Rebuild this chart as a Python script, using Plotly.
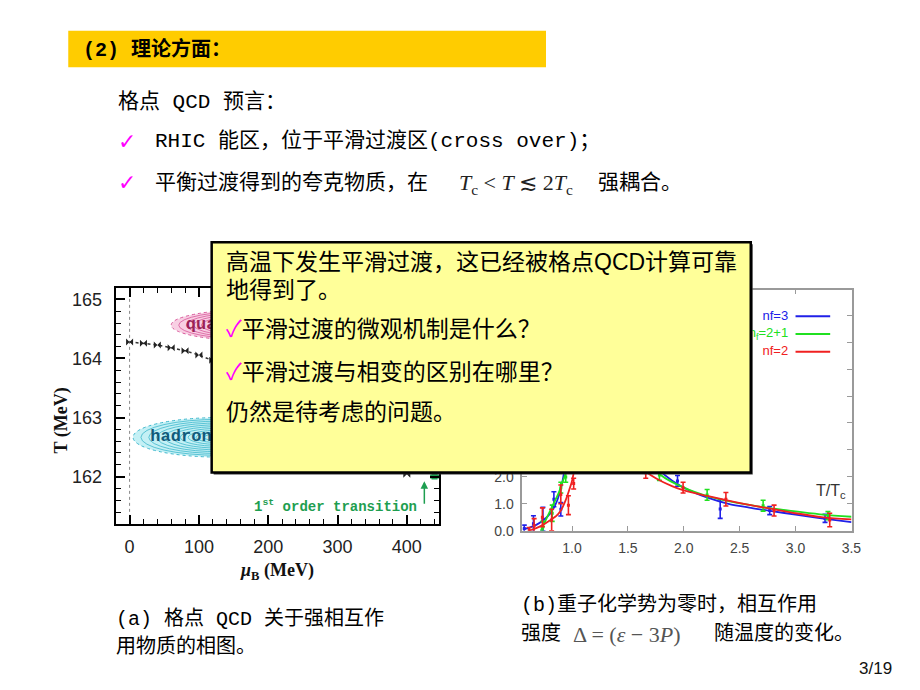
import plotly.graph_objects as go

W, H = 920, 690
def px(x): return x / W
def py(y): return 1 - y / H

# ---------------- Left panel data: lattice QCD phase diagram ----------------
mu_cross = [0, 20, 40, 60, 80, 100, 120, 140, 160, 180, 200, 220, 240, 260, 280, 300, 320, 340, 360, 380, 400]
T_cross = [164.28, 164.26, 164.23, 164.18, 164.13, 164.06, 163.97, 163.87, 163.75, 163.62, 163.48,
           163.34, 163.2, 163.05, 162.9, 162.75, 162.6, 162.45, 162.3, 162.16, 162.04]
mu_first = [440]
T_first = [162.0]
region_names = ["quark-gluon plasma", "hadron gas"]
region_mu = [81, 30]
region_T = [164.57, 162.67]
# ellipse (centre mu, half-width, centre T, half-height)
ell_qgp = (180, 120, 164.565, 0.265)
ell_had = (130, 125, 162.665, 0.335)

# ---------------- Right panel data: interaction measure vs T/Tc ----------------
c_nf3_x = [0.56, 0.62, 0.68, 0.74, 0.80, 0.85, 0.89, 0.92, 0.95, 1.0, 1.05, 1.1, 1.2, 1.3, 1.45, 1.6,
           1.75, 1.9, 2.05, 2.2, 2.4, 2.6, 2.8, 3.0, 3.2, 3.5]
c_nf3_y = [0.05, 0.12, 0.22, 0.38, 0.62, 0.95, 1.4, 1.95, 2.8, 4.6, 6.2, 7.0, 6.6, 5.4, 4.0, 3.0,
           2.35, 1.85, 1.5, 1.25, 1.0, 0.85, 0.72, 0.6, 0.48, 0.32]
c_nf21_x = [0.72, 0.76, 0.80, 0.84, 0.88, 0.91, 0.94, 0.97, 1.0, 1.05, 1.1, 1.2, 1.35, 1.5, 1.65, 1.8,
            2.0, 2.2, 2.4, 2.6, 2.8, 3.0, 3.25, 3.5]
c_nf21_y = [0.0, 0.35, 0.7, 1.05, 1.4, 1.75, 2.1, 2.8, 3.6, 5.0, 6.0, 6.4, 5.2, 3.8, 2.8, 2.05,
            1.6, 1.3, 1.1, 0.95, 0.82, 0.72, 0.6, 0.52]
c_nf2_x = [0.62, 0.68, 0.74, 0.80, 0.86, 0.90, 0.94, 0.97, 1.0, 1.03, 1.07, 1.12, 1.2, 1.3, 1.45, 1.6,
           1.75, 1.9, 2.0, 2.2, 2.4, 2.6, 2.8, 3.0, 3.25, 3.5]
c_nf2_y = [0.0, 0.1, 0.22, 0.38, 0.55, 0.75, 1.1, 1.45, 1.85, 2.5, 3.8, 5.0, 5.8, 5.0, 3.4, 2.4,
           1.95, 1.65, 1.5, 1.3, 1.12, 0.95, 0.8, 0.65, 0.5, 0.42]

p_nf3_x = [0.573, 0.655, 0.74, 0.838, 0.90, 1.944, 2.326, 2.769, 3.264]
p_nf3_y = [0.08, 0.26, 0.43, 1.17, 0.8, 1.85, 0.81, 0.75, 0.46]
p_nf3_e = [0.13, 0.3, 0.44, 0.28, 0.25, 0.2, 0.35, 0.15, 0.15]
p_nf21_x = [0.74, 0.823, 0.90, 0.944, 1.782, 2.209, 2.71, 3.29]
p_nf21_y = [0.15, 0.65, 1.6, 2.0, 2.07, 1.33, 0.93, 0.56]
p_nf21_e = [0.2, 0.3, 0.2, 0.2, 0.2, 0.2, 0.2, 0.15]
p_nf2_x = [0.617, 0.661, 0.735, 0.818, 0.90, 0.968, 1.015, 1.66, 1.994, 2.377, 2.808, 3.306]
p_nf2_y = [0.02, 0.2, 0.5, 0.4, 1.35, 0.95, 1.75, 2.15, 1.6, 1.17, 0.75, 0.4]
p_nf2_e = [0.1, 0.25, 0.35, 0.4, 0.35, 0.35, 0.2, 0.2, 0.2, 0.25, 0.2, 0.25]

series_names = ["nf=3", "n<sub>f</sub>=2+1", "nf=2"]
series_colors = ["#2020E8", "#20E020", "#F02020"]
legend_line_x = [3.0, 3.31]
legend_label_x = 2.934
legend_y = [7.96, 7.3, 6.64]

CJK_MONO = "Liberation Mono, Noto Sans CJK SC"
CJK_SANS = "Liberation Sans, Noto Sans CJK SC"
SERIF = "Liberation Serif, DejaVu Serif"

fig = go.Figure()

# ---- left panel traces ----
fig.add_trace(go.Scatter(
    x=mu_cross, y=T_cross, mode="lines+markers", xaxis="x", yaxis="y",
    line=dict(color="#333", width=1.5, dash="dot"),
    marker=dict(symbol="bowtie", size=7, color="#222"),
    showlegend=False, hoverinfo="skip"))
fig.add_trace(go.Scatter(
    x=mu_first, y=T_first, mode="markers", xaxis="x", yaxis="y",
    marker=dict(symbol="square", size=6, color="#1E9E50"),
    error_x=dict(type="constant", value=5, thickness=2, width=2, color="#1E9E50"),
    showlegend=False, hoverinfo="skip"))
fig.add_trace(go.Scatter(
    x=region_mu[:1], y=region_T[:1], text=region_names[:1], mode="text", xaxis="x", yaxis="y",
    textposition="middle right",
    textfont=dict(family="Liberation Mono", size=17, color="#9B2257", weight="bold"),
    showlegend=False, hoverinfo="skip"))
fig.add_trace(go.Scatter(
    x=region_mu[1:], y=region_T[1:], text=region_names[1:], mode="text", xaxis="x", yaxis="y",
    textposition="middle right",
    textfont=dict(family="Liberation Mono", size=17, color="#125A7A", weight="bold"),
    showlegend=False, hoverinfo="skip"))

# ---- right panel traces ----
curves = [(c_nf3_x, c_nf3_y), (c_nf21_x, c_nf21_y), (c_nf2_x, c_nf2_y)]
points = [(p_nf3_x, p_nf3_y, p_nf3_e), (p_nf21_x, p_nf21_y, p_nf21_e), (p_nf2_x, p_nf2_y, p_nf2_e)]
for i in range(3):
    cx, cy = curves[i]
    fig.add_trace(go.Scatter(
        x=cx, y=cy, mode="lines", xaxis="x2", yaxis="y2",
        line=dict(color=series_colors[i], width=1.8, shape="spline", smoothing=0.8),
        showlegend=False, hoverinfo="skip"))
    qx, qy, qe = points[i]
    fig.add_trace(go.Scatter(
        x=qx, y=qy, mode="markers", xaxis="x2", yaxis="y2",
        marker=dict(symbol="square", size=3, color=series_colors[i]),
        error_y=dict(type="data", array=qe, thickness=1.6, width=2.5, color=series_colors[i]),
        showlegend=False, hoverinfo="skip"))
    fig.add_trace(go.Scatter(
        x=legend_line_x, y=[legend_y[i]] * 2, mode="lines", xaxis="x2", yaxis="y2",
        line=dict(color=series_colors[i], width=2), showlegend=False, hoverinfo="skip"))
    fig.add_trace(go.Scatter(
        x=[legend_label_x], y=[legend_y[i]], text=[series_names[i]], mode="text",
        xaxis="x2", yaxis="y2", textposition="middle left",
        textfont=dict(family="Liberation Sans", size=13, color=series_colors[i]),
        showlegend=False, hoverinfo="skip"))

# ---------------- shapes ----------------
shapes = []
shapes.append(dict(type="rect", xref="paper", yref="paper", x0=px(69), x1=px(552), y0=py(68), y1=py(31),
                   fillcolor="#FFCC00", line=dict(width=0), layer="below"))
shapes.append(dict(type="line", xref="x", yref="y domain", x0=0, x1=0, y0=0, y1=1,
                   line=dict(color="#888", width=1, dash="dot"), layer="below"))

def ellipse_rings(e, fill, ring):
    cxm, rx, cyT, ry = e
    out = [dict(type="circle", xref="x", yref="y", x0=cxm - rx, x1=cxm + rx, y0=cyT - ry, y1=cyT + ry,
                fillcolor=fill, line=dict(color=ring, width=1, dash="dot"), layer="below")]
    n = 11
    for k in range(1, n):
        f = 1 - k / n
        out.append(dict(type="circle", xref="x", yref="y",
                        x0=cxm - rx * f, x1=cxm + rx * f, y0=cyT - ry * f, y1=cyT + ry * f,
                        fillcolor="rgba(0,0,0,0)", line=dict(color=ring, width=0.8), layer="below"))
    return out

shapes += ellipse_rings(ell_qgp, "#F8CFE3", "#D8579A")
shapes += ellipse_rings(ell_had, "#C4F0F5", "#3FB7CC")

# yellow overlay box
shapes.append(dict(type="rect", xref="paper", yref="paper", x0=px(216), x1=px(761), y0=py(480), y1=py(247),
                   fillcolor="#333", line=dict(width=0), layer="above"))
shapes.append(dict(type="rect", xref="paper", yref="paper", x0=px(214), x1=px(759), y0=py(478), y1=py(245),
                   fillcolor="#FFFF99", line=dict(color="black", width=2.5), layer="above"))

# ---------------- annotations ----------------
anns = []
def ann(x, y, text, size, family, color="black", xanchor="left", **kw):
    d = dict(x=px(x), y=py(y), xref="paper", yref="paper", text=text, showarrow=False,
             xanchor=xanchor, yanchor="middle", font=dict(size=size, family=family, color=color))
    d.update(kw)
    anns.append(d)

MAG = "#FF00FF"
ann(82, 50, "<b>(2) 理论方面：</b>", 20, CJK_MONO)
ann(117, 103, "格点 QCD 预言：", 21, CJK_MONO)
ann(117, 143, "<i>✓</i>", 22, "DejaVu Sans", MAG)
ann(155, 143, "RHIC 能区，位于平滑过渡区(cross over)；", 21, CJK_MONO)
ann(117, 185, "<i>✓</i>", 22, "DejaVu Sans", MAG)
ann(155, 185, "平衡过渡得到的夸克物质，在", 21, CJK_MONO)
ann(462, 186, "<i>T</i><sub>c</sub> &lt; <i>T</i> ≲ 2<i>T</i><sub>c</sub>", 22, SERIF, "#222")
ann(603, 185, "强耦合。", 21, CJK_MONO)

box_lines = [
    (265, "高温下发生平滑过渡，这已经被格点QCD计算可靠"),
    (293, "地得到了。"),
    (333, '<span style="color:#FF00FF">✓</span>平滑过渡的微观机制是什么？'),
    (376, '<span style="color:#FF00FF">✓</span>平滑过渡与相变的区别在哪里？'),
    (417, "仍然是待考虑的问题。"),
]
for yy, tt in box_lines:
    ann(226, yy, tt, 23, CJK_SANS)

ann(280, 578, "<b><i>μ</i><sub>B</sub> (MeV)</b>", 18, SERIF, "#111", xanchor="center")
ann(62, 425, "<b>T (MeV)</b>", 18, SERIF, "#111", xanchor="center", textangle=-90)
ann(424, 512, "<b>1<sup>st</sup> order transition</b>", 14, "Liberation Mono", "#1E9E50", xanchor="right")
anns.append(dict(x=px(429), y=py(487), xref="paper", yref="paper", text="", showarrow=True,
                 ax=0, ay=24, arrowhead=2, arrowsize=1, arrowwidth=1.5, arrowcolor="#1E9E50"))

ann(840, 497, "T/T<sub>c</sub>", 16, "Liberation Sans", "#333", xanchor="center")

ann(115, 626, "(a) 格点 QCD 关于强相互作", 20, CJK_MONO)
ann(115, 655, "用物质的相图。", 20, CJK_MONO)
ann(525, 612, "(b)重子化学势为零时，相互作用", 20, CJK_MONO)
ann(525, 641, "强度", 20, CJK_MONO)
ann(577, 642, "Δ = (<i>ε</i> − 3<i>P</i>)", 22, SERIF, "#555")
ann(720, 641, "随温度的变化。", 20, CJK_MONO)
ann(904, 676, "3/19", 17, "Liberation Sans", "#111", xanchor="right")

fig.update_layout(
    width=W, height=H, autosize=False,
    margin=dict(l=0, r=0, t=0, b=0),
    paper_bgcolor="white", plot_bgcolor="white",
    showlegend=False,
    shapes=shapes, annotations=anns,
    xaxis=dict(domain=[px(117), px(444)], range=[-20, 446.7], anchor="y",
               showline=True, linecolor="black", linewidth=2, mirror="ticks",
               ticks="inside", ticklen=9, tickwidth=1.5, tickcolor="black",
               tick0=0, dtick=100, showgrid=False, zeroline=False,
               minor=dict(tick0=0, dtick=20, ticks="inside", ticklen=5, tickwidth=1.2, tickcolor="black"),
               tickfont=dict(family="Liberation Sans", size=18, color="#222"), ticklabelstandoff=6),
    yaxis=dict(domain=[py(530), py(291)], range=[161.2, 165.2], anchor="x",
               showline=True, linecolor="black", linewidth=2, mirror="ticks",
               ticks="inside", ticklen=9, tickwidth=1.5, tickcolor="black",
               tick0=161, dtick=1, showgrid=False, zeroline=False,
               minor=dict(tick0=161, dtick=0.2, ticks="inside", ticklen=5, tickwidth=1.2, tickcolor="black"),
               tickfont=dict(family="Liberation Sans", size=18, color="#222"), ticklabelstandoff=8),
    xaxis2=dict(domain=[px(528), px(861)], range=[0.555, 3.502], anchor="y2",
                showline=True, linecolor="#9A9A9A", linewidth=1.5, mirror="ticks",
                ticks="inside", ticklen=5, tickwidth=1.2, tickcolor="#9A9A9A",
                tick0=0.5, dtick=0.5, tickformat=".1f", showgrid=False, zeroline=False,
                tickfont=dict(family="Liberation Sans", size=14, color="#444"), ticklabelstandoff=4),
    yaxis2=dict(domain=[py(537), py(293)], range=[0, 8.95], anchor="x2",
                showline=True, linecolor="#9A9A9A", linewidth=1.5, mirror="ticks",
                ticks="inside", ticklen=5, tickwidth=1.2, tickcolor="#9A9A9A",
                tick0=0, dtick=1, tickformat=".1f", showgrid=False, zeroline=False,
                tickfont=dict(family="Liberation Sans", size=14, color="#444"), ticklabelstandoff=4),
)

fig.write_html("out.html")
